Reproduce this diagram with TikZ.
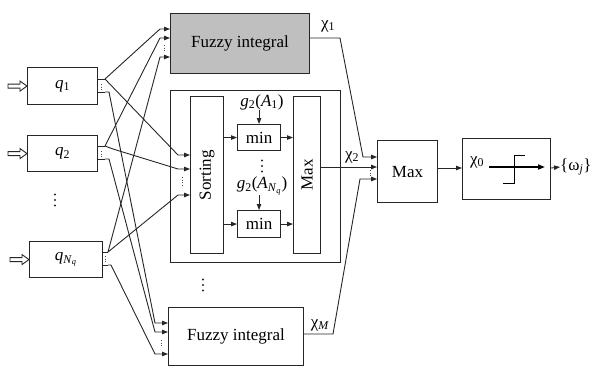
\documentclass[tikz,border=0pt]{standalone}
\usepackage{graphicx}
\usepackage{fontspec}
\setmainfont{Liberation Serif}
\usetikzlibrary{arrows.meta}
\newcommand{\qlab}[1]{\textit{q}\textsubscript{#1}}
\begin{document}
\begin{tikzpicture}[x=1pt,y=-1pt,
  every node/.style={font=\fontsize{17}{20}\selectfont},
  box/.style={draw=black!85, line width=1.1pt, inner sep=0pt, anchor=north west},
  lab/.style={inner sep=0pt},
  conn/.style={line width=0.9pt, draw=black!85},
  arr/.style={conn, -{Triangle[length=6pt,width=4.5pt]}},
  smalldots/.style={line width=0.9pt, draw=black!70, dash pattern=on 1.1pt off 1.4pt},
  hollow/.style={line width=0.9pt, draw=black!85, fill=white}]
\useasboundingbox (0,0) rectangle (596,365);
\clip (0,0) rectangle (596,365);

% input boxes
\node[box, minimum width=70pt, minimum height=37pt] (q1) at (27,67) {\qlab{1}};
\node[box, minimum width=70pt, minimum height=36pt] (q2) at (27,135) {\qlab{2}};
\node[box, minimum width=73pt, minimum height=36pt] (qN) at (29,241) {\textit{q}\textsubscript{\textit{N}\textsubscript{\textit{q}}}};

% hollow input arrows
\foreach \n in {q1,q2,qN}{
  \draw[hollow] ([shift={(-19,-2)}]\n.west) -- ++(12,0) -- ++(0,-3) -- ++(7,5) -- ++(-7,5) -- ++(0,-3) -- ++(-12,0) -- cycle;
}

% vertical dots
\foreach \x/\y in {55/200, 203/285, 262/166}{
  \fill[black!85] (\x,\y-5.5) circle[radius=1.2pt] (\x,\y) circle[radius=1.2pt] (\x,\y+5.5) circle[radius=1.2pt];
}

% fuzzy integral boxes
\node[box, fill=black!25, minimum width=139pt, minimum height=60pt] (fz1) at (170,13) {Fuzzy integral};
\node[box, minimum width=135pt, minimum height=58pt] (fz2) at (168,307) {Fuzzy integral};

% middle block
\node[box, minimum width=170pt, minimum height=172pt] (outer) at (170,90) {};
\node[box, minimum width=33pt, minimum height=157pt] (sort) at (190,96) {\rotatebox{90}{Sorting}};
\node[box, minimum width=27pt, minimum height=157pt] (maxin) at (293,96) {\rotatebox{90}{Max}};
\node[box, minimum width=43pt, minimum height=26pt] (min1) at (237,124) {min};
\node[box, minimum width=43pt, minimum height=27pt] (min2) at (237,210) {min};
\node[lab] (g1) at (262,102) {\textit{g}\textsubscript{2}(\textit{A}\textsubscript{1})};
\node[lab] (gN) at (262,186) {\textit{g}\textsubscript{2}(\textit{A}\textsubscript{\textit{N}\textsubscript{\textit{q}}})};
\draw[arr] (g1.south -| min1.north) -- (min1.north);
\draw[arr] (gN.south -| min2.north) -- (min2.north);
\draw[arr] (min1.west -| sort.east) -- (min1.west);
\draw[arr] (min2.west -| sort.east) -- (min2.west);
\draw[arr] (min1.east) -- (min1.east -| maxin.west);
\draw[arr] (min2.east) -- (min2.east -| maxin.west);

% max and threshold
\node[box, minimum width=60pt, minimum height=62pt] (maxb) at (377,140) {};
\node[lab] at (maxb.center) (maxt) {Max};
\node[box, minimum width=88pt, minimum height=61pt] (thr) at (462,138) {};
\node[lab] (chi0) at (477,162) {χ\textsubscript{0}};
\draw[line width=1.7pt, -{Triangle[length=7pt,width=5pt]}] (chi0.east |- 0,167) ++(5,0) coordinate (ta) -- (545,167) coordinate (tb);
\draw[line width=0.9pt] (503,183) -- (514,183) -- (514,155) -- (525,155);
\node[lab, anchor=west] (omega) at (560,167) {\{ω\textsubscript{\textit{j}}\}};
\draw[arr] (maxb.east |- 0,168) -- (thr.west |- 0,168);
\draw[arr] (thr.east |- 0,168) -- (omega.west);

% target coordinates
\coordinate (f1a) at (170,29); \coordinate (f1b) at (170,38); \coordinate (f1c) at (170,57);
\coordinate (s1) at (190,155); \coordinate (s2) at (190,169); \coordinate (s3) at (190,195);
\coordinate (f2a) at (168,323); \coordinate (f2b) at (168,332); \coordinate (f2c) at (168,354);
\coordinate (m1) at (377,157); \coordinate (m2) at (377,167); \coordinate (m3) at (377,179);

% stubs
\coordinate (q1u) at (105,79); \coordinate (q1l) at (105,92);
\coordinate (q2u) at (105,146); \coordinate (q2l) at (105,159);
\coordinate (qNu) at (108,252); \coordinate (qNl) at (108,265);
\foreach \n/\b in {q1u/q1,q1l/q1,q2u/q2,q2l/q2,qNu/qN,qNl/qN}{
  \draw[conn] (\b.east |- \n) -- (\n);
}
\draw[smalldots] (101,84) -- (101,90);
\draw[smalldots] (101,151) -- (101,157);
\draw[smalldots] (105,256) -- (105,262);

% connectors from inputs
\draw[arr] (q1u) -- ([xshift=-10pt]f1a) -- (f1a);
\draw[arr] (q2u) -- ([xshift=-10pt]f1b) -- (f1b);
\draw[arr] (qNu) -- ([xshift=-10pt]f1c) -- (f1c);
\draw[arr] (q1u) -- ([xshift=-12pt]s1) -- (s1);
\draw[arr] (q2u) -- ++(8,3) -- ([xshift=-12pt]s2) -- (s2);
\draw[arr] (qNu) -- ([xshift=-12pt]s3) -- (s3);
\draw[arr] (q1l) -- ++(4,0) -- ([xshift=-13pt]f2a) -- (f2a);
\draw[arr] (q2l) -- ++(4,0) -- ([xshift=-13pt]f2b) -- (f2b);
\draw[arr] (qNl) -- ++(3,0) -- ([xshift=-13pt]f2c) -- (f2c);
\draw[smalldots] (164,45) -- (164,52);
\draw[smalldots] (182,177) -- (182,186);
\draw[smalldots] (161,340) -- (161,347);

% outputs to Max
\node[lab] (chi1) at (328,26) {χ\textsubscript{1}};
\node[lab] (chi2) at (352,157) {χ\textsubscript{2}};
\node[lab] (chiM) at (320,325) {χ\textsubscript{\textit{M}}};
\draw[arr] (fz1.east |- 0,38) -- (340,38) -- ([xshift=-14pt]m1) -- (m1);
\draw[arr] (maxin.east |- m2) -- (m2);
\draw[arr] (fz2.east |- 0,334) -- (333,334) -- ([xshift=-17pt]m3) -- (m3);
\draw[smalldots] (370,170) -- (370,176);
\end{tikzpicture}
\end{document}
